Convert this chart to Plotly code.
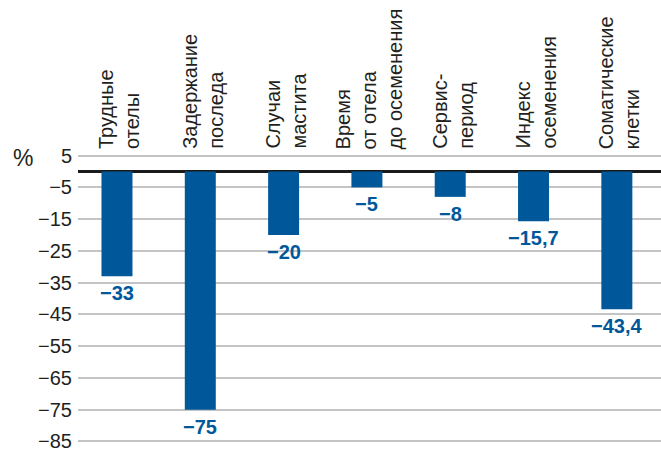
import plotly.graph_objects as go

categories = ["Трудные<br>отелы", "Задержание<br>последа", "Случаи<br>мастита",
              "Время<br>от отела<br>до осеменения", "Сервис-<br>период",
              "Индекс<br>осеменения", "Соматические<br>клетки"]
values = [-33, -75, -20, -5, -8, -15.7, -43.4]
tick_vals = [5, -5, -15, -25, -35, -45, -55, -65, -75, -85]

def fmt(v):
    s = ("%g" % v).replace(".", ",")
    return s.replace("-", "\u2212")

tick_text = [fmt(v) for v in tick_vals]
value_text = [fmt(v) for v in values]

blue = "#00589b"
dark = "#231f20"
xs = list(range(len(categories)))

fig = go.Figure()
fig.add_trace(go.Bar(
    x=xs, y=values, width=0.372, marker_color=blue, marker_line_width=0,
    hoverinfo="skip",
))

for i, (v, t) in enumerate(zip(values, value_text)):
    fig.add_annotation(x=i, y=v, xref="x", yref="y", text=t, showarrow=False,
                       xanchor="center", yanchor="top", yshift=-4,
                       font=dict(family="Liberation Sans", size=20, color=blue, weight="bold"))

for i, c in enumerate(categories):
    fig.add_annotation(x=i, y=1, xref="x", yref="paper", text=c, textangle=-90,
                       showarrow=False, xanchor="center", yanchor="bottom", align="left",
                       yshift=3, xshift=2,
                       font=dict(family="Liberation Sans", size=20, color=dark))

fig.add_annotation(xref="paper", yref="paper", x=-0.095, y=1.0, text="%",
                   showarrow=False, xanchor="center", yanchor="middle", yshift=-4,
                   font=dict(family="Liberation Sans", size=23, color=dark))

fig.update_layout(
    width=661, height=453, margin=dict(l=78, r=0, t=154, b=10),
    paper_bgcolor="white", plot_bgcolor="white", showlegend=False,
    xaxis=dict(range=[-0.468, 6.53], showticklabels=False, showgrid=False,
               zeroline=False, showline=False, fixedrange=True),
    yaxis=dict(range=[-85.5, 5.5], tickvals=tick_vals, ticktext=tick_text,
               showgrid=True, gridcolor="#c4c4c4", gridwidth=1.5,
               zeroline=True, zerolinecolor="#1a1a1a", zerolinewidth=3,
               showline=False, ticks="", ticklabelstandoff=5,
               tickfont=dict(family="Liberation Sans", size=20, color=dark)),
)

fig.write_html("out.html")
